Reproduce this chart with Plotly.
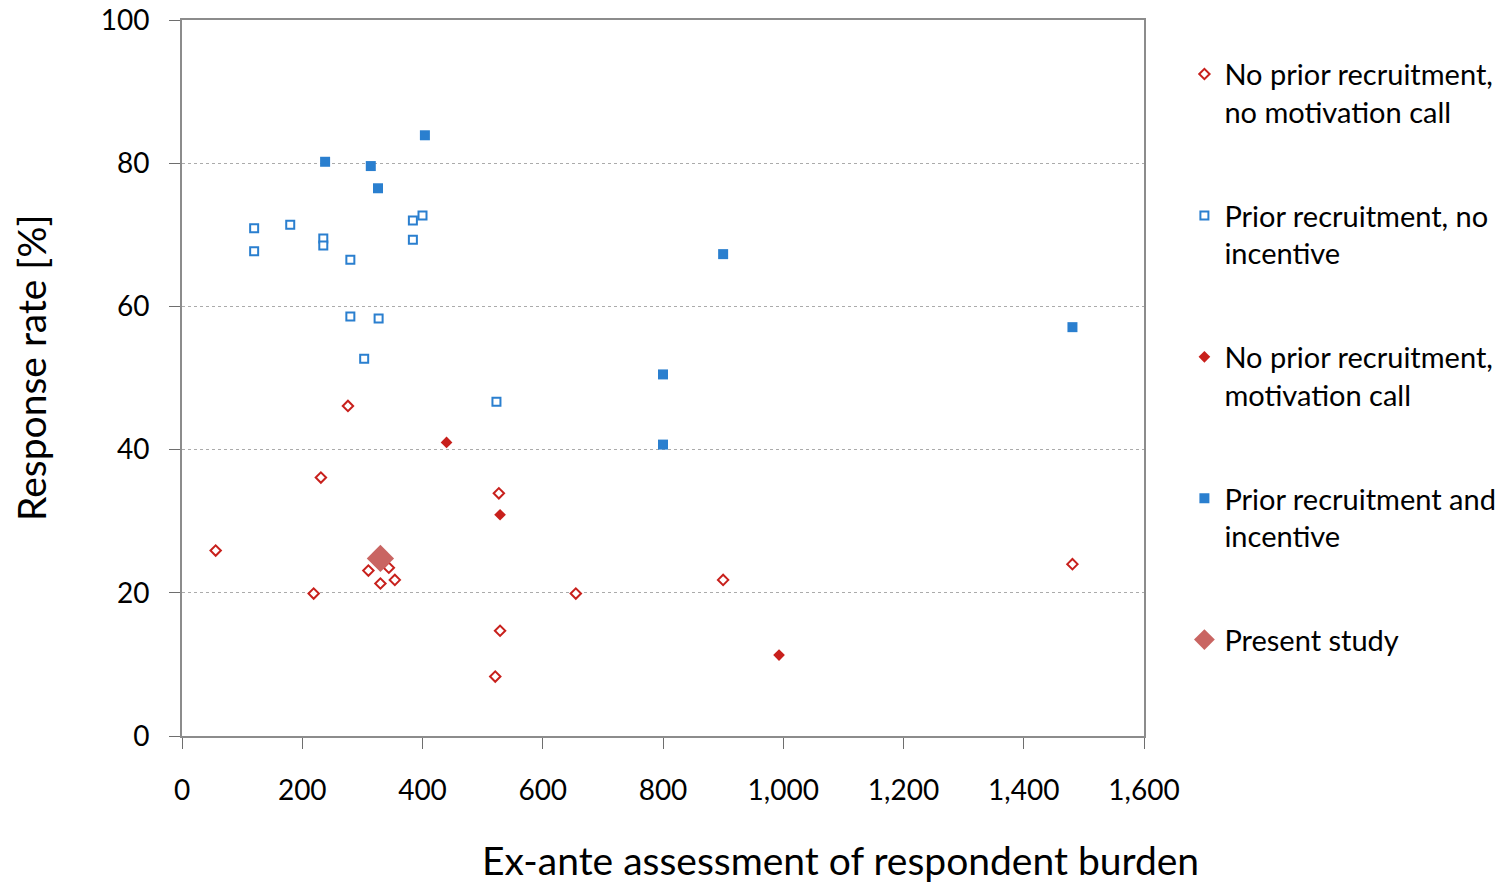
import plotly.graph_objects as go

# No prior recruitment, no motivation call
nomot_x = [56, 219, 231, 276, 310, 330, 344, 354, 521, 527, 529, 655, 900, 1481]
nomot_y = [25.9, 19.9, 36.1, 46.1, 23.1, 21.3, 23.5, 21.8, 8.3, 33.9, 14.7, 19.9, 21.8, 24.0]

# Prior recruitment, no incentive
prior_x = [120, 120, 180, 235, 235, 280, 280, 303, 327, 384, 384, 400, 523]
prior_y = [70.9, 67.7, 71.4, 69.5, 68.5, 66.5, 58.6, 52.7, 58.3, 72.0, 69.3, 72.7, 46.7]

# No prior recruitment, motivation call
mot_x = [440, 529, 993]
mot_y = [41.0, 30.9, 11.3]

# Prior recruitment and incentive
inc_x = [238, 314, 326, 404, 800, 800, 900, 1481]
inc_y = [80.2, 79.6, 76.5, 83.9, 50.5, 40.7, 67.3, 57.1]

# Present study
present_x = [330]
present_y = [24.8]

red = "#C8201C"
blue = "#2A7FCF"
font = "Lato, 'Open Sans', sans-serif"

fig = go.Figure()

fig.add_trace(go.Scatter(
    x=nomot_x, y=nomot_y, mode="markers",
    name="No prior recruitment,<br>no motivation call", legendgroup="a",
    marker=dict(symbol="diamond", size=8, color="white", line=dict(color=red, width=2)),
))
fig.add_trace(go.Scatter(
    x=prior_x, y=prior_y, mode="markers",
    name="Prior recruitment, no<br>incentive", legendgroup="b",
    marker=dict(symbol="square", size=8, color="white", line=dict(color=blue, width=2)),
))
fig.add_trace(go.Scatter(
    x=mot_x, y=mot_y, mode="markers",
    name="No prior recruitment,<br>motivation call", legendgroup="c",
    marker=dict(symbol="diamond", size=9, color=red, line=dict(width=0)),
))
fig.add_trace(go.Scatter(
    x=inc_x, y=inc_y, mode="markers",
    name="Prior recruitment and<br>incentive", legendgroup="d",
    marker=dict(symbol="square", size=10, color=blue, line=dict(width=0)),
))
fig.add_trace(go.Scatter(
    x=present_x, y=present_y, mode="markers",
    name="Present study", legendgroup="e",
    marker=dict(symbol="diamond", size=21, color="#C96562", line=dict(width=0)),
))

axis_common = dict(
    showline=True, linecolor="#8C8C8C", linewidth=2, mirror=True,
    ticks="outside", ticklen=11, tickcolor="#6E6E6E", tickwidth=1,
    tickfont=dict(family=font, size=28, color="black"),
    zeroline=False, automargin=False, ticklabeloverflow="allow",
)

fig.update_xaxes(
    range=[0, 1600], tickvals=list(range(0, 1601, 200)), tickformat=",d",
    showgrid=False, ticklabelstandoff=17,
    **axis_common,
)
fig.update_yaxes(
    range=[0, 100], tickvals=list(range(0, 101, 20)),
    showgrid=True, gridcolor="#ABABAB", gridwidth=1, griddash="dot",
    ticklabelstandoff=14,
    **axis_common,
)

# axis titles as annotations (the x title sits right of centre in the original)
fig.add_annotation(
    text="Ex-ante assessment of respondent burden",
    xref="paper", yref="paper", x=0.684, y=-0.173, xanchor="center", yanchor="middle",
    showarrow=False, font=dict(family=font, size=39, color="black"),
)
fig.add_annotation(
    text="Response rate [%]",
    xref="paper", yref="paper", x=-0.157, y=0.514, xanchor="center", yanchor="middle",
    textangle=-90, showarrow=False, font=dict(family=font, size=39, color="black"),
)

# figure is a bit wider than the window so the legend never squeezes the plot
fig.update_layout(
    width=1530, height=882,
    margin=dict(l=182, r=386, t=20, b=146),
    plot_bgcolor="white", paper_bgcolor="white",
    legend=dict(
        x=1.042, y=0.96, xanchor="left", yanchor="top",
        font=dict(family=font, size=29, color="black"),
        tracegroupgap=63, valign="top", itemwidth=30,
        bgcolor="rgba(0,0,0,0)",
    ),
)

fig.write_html("out.html", config={"displayModeBar": False},
               post_script="document.body.style.margin = '0';")
